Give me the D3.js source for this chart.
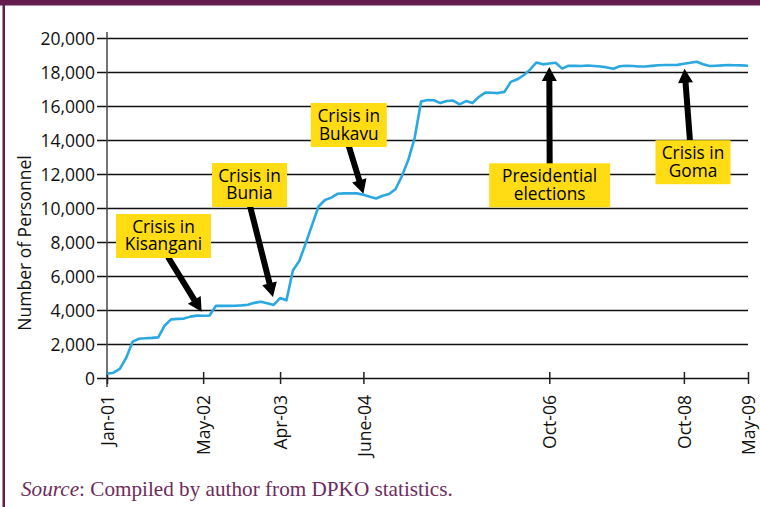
<!DOCTYPE html>
<html>
<head>
<meta charset="utf-8">
<script src="https://cdn.jsdelivr.net/npm/d3@7/dist/d3.min.js"></script>
<style>
    body { margin: 0; background: #ffffff; }
    svg { display: block; }
</style>
</head>
<body>
<svg id="chart" width="760" height="507"></svg>
<script>

// Personnel per report (Jan-01 .. May-09)
const personnel = [
    250, 310, 540, 1190, 2140, 2310, 2340, 2360, 2390, 3090,
    3450, 3480, 3495, 3610, 3670, 3660, 3680, 4250, 4245, 4240,
    4250, 4270, 4310, 4420, 4490, 4400, 4300, 4700, 4570, 6320,
    6880, 7920, 9010, 10090, 10470, 10610, 10840, 10860, 10860, 10860,
    10780, 10660, 10560, 10720, 10820, 11100, 11870, 12820, 14130, 16260,
    16350, 16340, 16170, 16290, 16320, 16100, 16290, 16170, 16530, 16790,
    16780, 16760, 16830, 17420, 17570, 17810, 18140, 18560, 18450, 18500,
    18540, 18200, 18370, 18360, 18350, 18380, 18350, 18320, 18270, 18190,
    18340, 18370, 18350, 18320, 18320, 18360, 18400, 18410, 18410, 18420,
    18480, 18540, 18600, 18460, 18350, 18370, 18390, 18410, 18400, 18390,
    18370
]

// X tick reports and labels
const tickIndex = [0, 15, 27, 40, 69, 90, 100]
const tickLabels = ["Jan-01", "May-02", "Apr-03", "June-04", "Oct-06", "Oct-08", "May-09"]

// Y ticks
const yTicks = [0, 2000, 4000, 6000, 8000, 10000, 12000, 14000, 16000, 18000, 20000]

// Annotations: text and the report they point at
const annotationText = [
    ["Crisis in", "Kisangani"],
    ["Crisis in", "Bunia"],
    ["Crisis in", "Bukavu"],
    ["Presidential", "elections"],
    ["Crisis in", "Goma"]
]
const annotationTarget = [15, 26, 40, 69, 90]

const yTitle = "Number of Personnel"
const sourceLabel = "Source"
const sourceText = ": Compiled by author from DPKO statistics."

class PersonnelChartRenderer {

    // Constructor
    constructor(width, height) {
        this.width = width
        this.height = height

        // Plot area
        this.left = 107
        this.right = 748
        this.top = 38
        this.bottom = 378

        this.purple = "#651d4f"
        this.yellow = "#ffdc14"
        this.blue = "#2ba8df"
        this.font = "'Open Sans', sans-serif"

        // Box placement for each annotation (box centre in data units, size in px, arrow offsets)
        this.annotationLayout = [
            { ci: 8.81,  cv: 8353,  w: 95,  side: "bottom", sdx: 4.5, tdx: -1.5, tdy: -4 },
            { ci: 22.23, cv: 11353, w: 75,  side: "bottom", sdx: 0.5, tdx: -0.7, tdy: -8 },
            { ci: 37.72, cv: 14882, w: 76,  side: "bottom", sdx: 0,   tdx: 0,    tdy: -1 },
            { ci: 69.06, cv: 11335, w: 121, side: "top",    sdx: 0,   tdx: 0,    tdy: 3.5 },
            { ci: 91.42, cv: 12694, w: 75,  side: "top",    sdx: -3,  tdx: 0.6,  tdy: 5 }
        ]
    }

    // Arrow polygon from start to tip
    arrowPath(x0, y0, x1, y1) {
        let dx = x1 - x0, dy = y1 - y0
        let len = Math.sqrt(dx * dx + dy * dy)
        let ux = dx / len, uy = dy / len
        let nx = -uy, ny = ux
        let shaft = 3, head = 7.5, headLen = 14
        let bx = x1 - ux * headLen, by = y1 - uy * headLen
        let pts = [
            [x0 + nx * shaft, y0 + ny * shaft],
            [bx + nx * shaft, by + ny * shaft],
            [bx + nx * head, by + ny * head],
            [x1, y1],
            [bx - nx * head, by - ny * head],
            [bx - nx * shaft, by - ny * shaft],
            [x0 - nx * shaft, y0 - ny * shaft]
        ]
        return "M" + pts.map(p => p[0].toFixed(2) + "," + p[1].toFixed(2)).join("L") + "Z"
    }

    // Renderer
    render(svg) {

        let x = d3.scaleLinear()
            .domain([0, personnel.length - 1])
            .range([this.left, this.right])

        let y = d3.scaleLinear()
            .domain([0, 20000])
            .range([this.bottom, this.top])

        // Frame: purple top band and left rule
        svg.append("rect")
            .attr("x", 0).attr("y", 0)
            .attr("width", this.width).attr("height", 5.5)
            .attr("fill", this.purple)
        svg.append("rect")
            .attr("x", 2.5).attr("y", 0)
            .attr("width", 2.5).attr("height", this.height)
            .attr("fill", this.purple)

        // Gridlines + y ticks
        let yAxis = d3.axisLeft(y)
            .tickValues(yTicks)
            .tickSize(10)
            .tickPadding(2)
            .tickFormat(d3.format(","))

        let yG = svg.append("g")
            .attr("transform", "translate(" + this.left + ",0)")
            .call(yAxis)
        yG.select(".domain").remove()
        yG.selectAll(".tick line")
            .attr("x2", this.right - this.left)
            .attr("x1", -10)
            .attr("stroke", "#111")
            .attr("stroke-width", 1.5)
        yG.selectAll(".tick text")
            .attr("font-family", this.font)
            .attr("font-size", 17.5)
            .attr("fill", "#111")
            .attr("dy", "0.36em")

        // Y axis rule
        svg.append("line")
            .attr("x1", this.left).attr("x2", this.left)
            .attr("y1", this.top - 6).attr("y2", this.bottom + 9)
            .attr("stroke", "#444")
            .attr("stroke-width", 1.5)

        // X ticks and rotated labels
        let xAxis = d3.axisBottom(x)
            .tickValues(tickIndex)
            .tickSize(6)
            .tickFormat((d, i) => tickLabels[i])

        let xG = svg.append("g")
            .attr("transform", "translate(0," + this.bottom + ")")
            .call(xAxis)
        xG.select(".domain").remove()
        xG.selectAll(".tick line")
            .attr("y1", -6)
            .attr("y2", 6)
            .attr("stroke", "#222")
            .attr("stroke-width", 1.5)
        xG.selectAll(".tick text")
            .attr("font-family", this.font)
            .attr("font-size", 17.5)
            .attr("fill", "#111")
            .attr("text-anchor", "end")
            .attr("transform", "rotate(-90)")
            .attr("x", -17)
            .attr("y", 0)
            .attr("dy", "0.38em")

        // Y title
        svg.append("text")
            .attr("transform", "translate(31," + 243 + ") rotate(-90)")
            .attr("text-anchor", "middle")
            .attr("font-family", this.font)
            .attr("font-size", 17.5)
            .attr("fill", "#111")
            .text(yTitle)

        // Personnel line
        let line = d3.line()
            .x((d, i) => x(i))
            .y(d => y(d))

        svg.append("path")
            .datum(personnel)
            .attr("d", line)
            .attr("fill", "none")
            .attr("stroke", this.blue)
            .attr("stroke-width", 2.6)
            .attr("stroke-linejoin", "round")

        // Annotations
        let boxH = 44
        for (let k = 0; k < annotationText.length; k++) {
            let lay = this.annotationLayout[k]
            let cx = x(lay.ci)
            let cy = y(lay.cv)

            let sx = cx + lay.sdx
            let sy = lay.side == "bottom" ? cy + boxH / 2 - 1 : cy - boxH / 2 + 1
            let tx = x(annotationTarget[k]) + lay.tdx
            let ty = y(personnel[annotationTarget[k]]) + lay.tdy

            // Append the arrow
            svg.append("path")
                .attr("d", this.arrowPath(sx, sy, tx, ty))
                .attr("fill", "#000")

            // Append the yellow box
            svg.append("rect")
                .attr("x", cx - lay.w / 2)
                .attr("y", cy - boxH / 2)
                .attr("width", lay.w)
                .attr("height", boxH)
                .attr("fill", this.yellow)

            // Two lines of text in one label
            let label = svg.append("text")
                .attr("text-anchor", "middle")
                .attr("font-family", this.font)
                .attr("font-size", 17.3)
                .attr("fill", "#000")
            label.append("tspan")
                .attr("x", cx).attr("y", cy - 3)
                .text(annotationText[k][0])
            label.append("tspan")
                .attr("x", cx).attr("y", cy + 14.5)
                .text(annotationText[k][1])
        }

        // Source note
        let src = svg.append("text")
            .attr("x", 21)
            .attr("y", 495.5)
            .attr("font-family", "'Liberation Serif', 'Times New Roman', serif")
            .attr("font-size", 21.2)
            .attr("fill", "#6d2c5c")
        src.append("tspan").attr("font-style", "italic").text(sourceLabel)
        src.append("tspan").text(sourceText)
    }
}

let renderer = new PersonnelChartRenderer(760, 507)
renderer.render(d3.select("#chart"))

</script>
</body>
</html>
